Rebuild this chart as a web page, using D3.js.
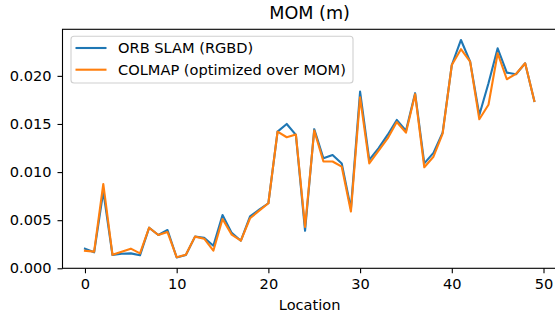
<!DOCTYPE html>
<html>
<head>
<meta charset="utf-8">
<script src="https://cdn.jsdelivr.net/npm/d3@7"></script>
<style>
  body { margin: 0; background: #fff; }
  svg { display: block; font-family: "DejaVu Sans", sans-serif; }
</style>
</head>
<body>
<div id="chart"></div>
<script>
//----------------------------
// Data
//----------------------------

var locations = d3.range(0, 50);

var orbSlam = [
    0.00204, 0.00166, 0.0080, 0.00138, 0.00152, 0.00155, 0.00135, 0.00422, 0.00346, 0.00398,
    0.00112, 0.00138, 0.00329, 0.00318, 0.00235, 0.00554, 0.00368, 0.00287, 0.0054, 0.0061,
    0.00676, 0.0142, 0.0150, 0.01386, 0.0039, 0.01446, 0.01143, 0.01178, 0.0109, 0.0062,
    0.01836, 0.01126, 0.01247, 0.01386, 0.01542, 0.0143, 0.0182, 0.0109, 0.0120, 0.0141,
    0.02113, 0.02373, 0.02148, 0.01594, 0.01923, 0.02287, 0.02034, 0.02017, 0.02131, 0.01739
];

var colmap = [
    0.00183, 0.00173, 0.00876, 0.00140, 0.00173, 0.00204, 0.00155, 0.00422, 0.00346, 0.00377,
    0.00115, 0.00140, 0.00329, 0.00308, 0.00183, 0.00512, 0.00350, 0.00287, 0.0052, 0.0060,
    0.00676, 0.0142, 0.01362, 0.0139, 0.0043, 0.01432, 0.0111, 0.0111, 0.01056, 0.0059,
    0.01777, 0.0109, 0.0122, 0.0135, 0.0152, 0.0141, 0.0181, 0.0105, 0.0116, 0.0140,
    0.02113, 0.02277, 0.02148, 0.01549, 0.0170, 0.02235, 0.01965, 0.0202, 0.02131, 0.01739
];

var seriesNames = ["ORB SLAM (RGBD)", "COLMAP (optimized over MOM)"];
var seriesColors = ["#1f77b4", "#ff7f0e"];
var xTicks = [0, 10, 20, 30, 40, 50];
var yTicks = [0, 0.005, 0.010, 0.015, 0.020];

function drawChart() {

    var w = 555, h = 313;
    var plotLeft = 62.5, plotRight = 556.8, plotTop = 29.3, plotBottom = 268.3;
    var fontSize = "14.6px";

    var svg = d3.select("#chart")
        .append("svg")
        .attr("width", w)
        .attr("height", h);

    var x = d3.scaleLinear()
        .domain([-2.45, 51.45])
        .range([plotLeft, plotRight]);

    var y = d3.scaleLinear()
        .domain([0, 0.02484])
        .range([plotBottom, plotTop]);

    //----------------------------
    // Axes
    //----------------------------

    var xAxis = svg.append("g")
        .attr("transform", "translate(0," + plotBottom + ")")
        .call(d3.axisBottom(x).tickValues(xTicks).tickSize(5).tickPadding(5).tickFormat(d3.format("d")));

    var yAxis = svg.append("g")
        .attr("transform", "translate(" + plotLeft + ",0)")
        .call(d3.axisLeft(y).tickValues(yTicks).tickSize(5).tickPadding(6).tickFormat(d3.format(".3f")));

    [xAxis, yAxis].forEach(function (g) {
        g.select(".domain").remove();
        g.selectAll("line").attr("stroke", "#000").attr("stroke-width", 1.1);
        g.selectAll("text")
            .attr("fill", "#000")
            .style("font-family", "'DejaVu Sans', sans-serif")
            .style("font-size", fontSize);
    });

    // frame
    svg.append("rect")
        .attr("x", plotLeft)
        .attr("y", plotTop)
        .attr("width", plotRight - plotLeft)
        .attr("height", plotBottom - plotTop)
        .attr("fill", "none")
        .attr("stroke", "#000")
        .attr("stroke-width", 1.1);

    //----------------------------
    // Lines
    //----------------------------

    var line = d3.line()
        .x(function (d, i) { return x(locations[i]); })
        .y(function (d) { return y(d); });

    [orbSlam, colmap].forEach(function (s, k) {
        svg.append("path")
            .datum(s)
            .attr("d", line)
            .attr("fill", "none")
            .attr("stroke", seriesColors[k])
            .attr("stroke-width", 2.1)
            .attr("stroke-linejoin", "round")
            .attr("stroke-linecap", "square");
    });

    //----------------------------
    // Text
    //----------------------------

    svg.append("text")
        .attr("x", (plotLeft + plotRight) / 2)
        .attr("y", 18.5)
        .attr("text-anchor", "middle")
        .style("font-size", "17.6px")
        .text("MOM (m)");

    svg.append("text")
        .attr("x", (plotLeft + plotRight) / 2)
        .attr("y", 310)
        .attr("text-anchor", "middle")
        .style("font-size", fontSize)
        .text("Location");

    //----------------------------
    // Legend
    //----------------------------

    var legend = svg.append("g");

    legend.append("rect")
        .attr("x", 71)
        .attr("y", 36.3)
        .attr("width", 282)
        .attr("height", 46.7)
        .attr("rx", 3)
        .attr("fill", "#fff")
        .attr("fill-opacity", 0.8)
        .attr("stroke", "#d0d0d0")
        .attr("stroke-width", 1.1);

    seriesNames.forEach(function (name, k) {
        var cy = 48 + k * 21.7;
        legend.append("line")
            .attr("x1", 75.5)
            .attr("x2", 106.5)
            .attr("y1", cy)
            .attr("y2", cy)
            .attr("stroke", seriesColors[k])
            .attr("stroke-width", 2.1);
        legend.append("text")
            .attr("x", 118)
            .attr("y", cy + 5)
            .style("font-size", fontSize)
            .text(name);
    });
}

drawChart();
</script>
</body>
</html>
